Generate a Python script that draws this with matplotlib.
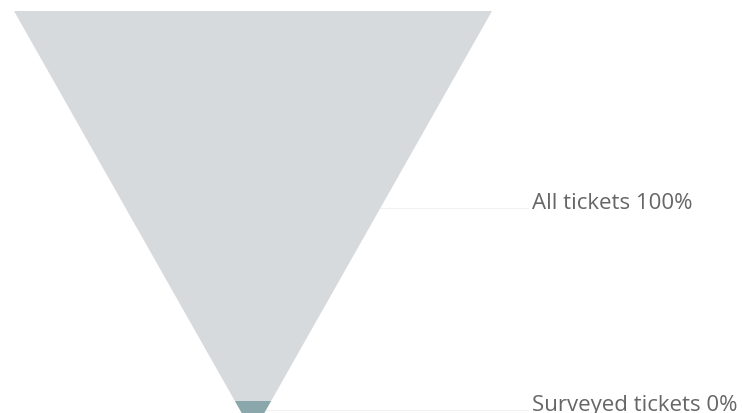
import matplotlib.pyplot as plt

stages = ['All tickets', 'Surveyed tickets']
percents = [100, 0]
colors = ['#d7dadd', '#8aa8ab']

# funnel geometry in pixel units (figure is 743x414)
top_y = 12
split_y = 402
apex_y = 434
left_x = 14
right_x = 492
label_ys = [209, 411]


def main():
    fig = plt.figure(figsize=(7.43, 4.14), dpi=100)
    ax = fig.add_axes([0, 0, 1, 1])
    ax.set_xlim(0, 743)
    ax.set_ylim(414, 0)
    ax.axis('off')

    cx = (left_x + right_x) / 2
    half = (right_x - left_x) / 2

    def half_w(y):
        return half * (apex_y - y) / (apex_y - top_y)

    bounds = [top_y, split_y, apex_y]
    for i, stage in enumerate(stages):
        y0, y1 = bounds[i], bounds[i + 1]
        xs = [cx - half_w(y0), cx + half_w(y0), cx + half_w(y1), cx - half_w(y1)]
        ys = [y0, y0, y1, y1]
        ax.fill(xs, ys, color=colors[i], linewidth=0)

        ly = label_ys[i]
        ax.plot([cx + half_w(ly), 528], [ly, ly], color='#f2f2f2', linewidth=0.8)
        ax.text(532, ly, f'{stage} {percents[i]}%', fontsize=16,
                family='Open Sans', color='#666666', va='baseline', ha='left')

    plt.savefig('out.png', dpi=100)


if __name__ == '__main__':
    main()
